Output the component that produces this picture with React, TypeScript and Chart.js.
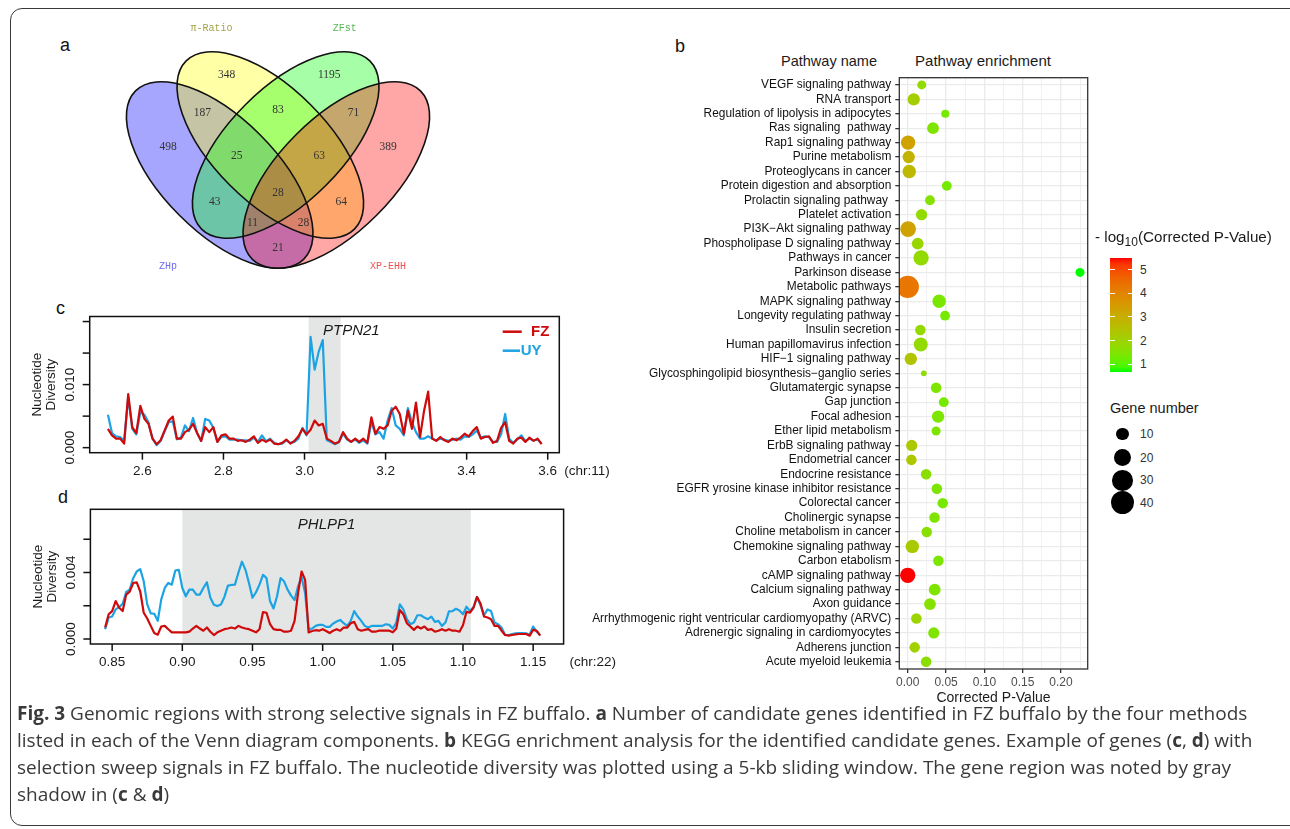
import React, { useEffect, useRef } from 'react';
import { Chart, registerables } from 'chart.js';

Chart.register(...registerables);

/* ---------------- Panel a : Venn diagram data ---------------- */
const vennSetNames = ['ZHp', 'π-Ratio', 'ZFst', 'XP-EHH'];
// regions: ZHp, π, ZFst, XP, ZHp∩π, π∩ZFst, ZFst∩XP, ZHp∩π∩ZFst, π∩ZFst∩XP, ZHp∩ZFst, all, π∩XP, ZHp∩ZFst∩XP, ZHp∩π∩XP, ZHp∩XP
const vennRegionCounts = [498, 348, 1195, 389, 187, 83, 71, 25, 63, 43, 28, 64, 11, 28, 21];

/* geometry of the Venn layout (diagram units, 1 unit = 1 px) */
const vennRegionAnchors = [
  [-110, 2], [-51.3, -70], [51.3, -70], [110, 2], [-75.6, -31.7], [0, -35], [75.6, -31.7],
  [-41.3, 10.7], [41.3, 10.7], [-63.3, 57.3], [0, 48.3], [63.3, 57.3], [-25.5, 78.3], [25.5, 78.3], [0, 103.3],
];
const vennEllipseCx = [-58.3, -7.7, 7.7, 58.3];
const vennEllipseCy = [30, 0, 0, 30];
const vennEllipseRot = [45, 45, -45, -45];
const vennEllipseA = 119;
const vennEllipseB = 57;
const vennFillColors = ['#0000FF', '#FFFF00', '#00FF00', '#FF0000'];
const vennLabelColors = ['#6B6BF0', '#A3A34A', '#55B855', '#F05050'];
const vennLabelAnchors = [[-110, 121], [-66.6, -116.7], [66.7, -116.7], [110, 121]];

/* ---------------- Panel b : KEGG enrichment data ---------------- */
const pathwayNames = [
  'VEGF signaling pathway', 'RNA transport', 'Regulation of lipolysis in adipocytes', 'Ras signaling  pathway',
  'Rap1 signaling pathway', 'Purine metabolism', 'Proteoglycans in cancer', 'Protein digestion and absorption',
  'Prolactin signaling pathway ', 'Platelet activation', 'PI3K\u2212Akt signaling pathway', 'Phospholipase D signaling pathway',
  'Pathways in cancer', 'Parkinson disease', 'Metabolic pathways', 'MAPK signaling pathway',
  'Longevity regulating pathway', 'Insulin secretion', 'Human papillomavirus infection', 'HIF\u22121 signaling pathway',
  'Glycosphingolipid biosynthesis\u2212ganglio series', 'Glutamatergic synapse', 'Gap junction', 'Focal adhesion',
  'Ether lipid metabolism', 'ErbB signaling pathway', 'Endometrial cancer', 'Endocrine resistance',
  'EGFR yrosine kinase inhibitor resistance', 'Colorectal cancer', 'Cholinergic synapse', 'Choline metabolism in cancer',
  'Chemokine signaling pathway', 'Carbon etabolism', 'cAMP signaling pathway', 'Calcium signaling pathway',
  'Axon guidance', 'Arrhythmogenic right ventricular cardiomyopathy (ARVC)', 'Adrenergic signaling in cardiomyocytes', 'Adherens junction',
  'Acute myeloid leukemia',
];
const correctedP = [
  0.0183, 0.0078, 0.049, 0.033,
  0.0005, 0.0013, 0.002, 0.051,
  0.029, 0.018, 0.0005, 0.013,
  0.0174, 0.2248, 0.00005, 0.041,
  0.0487, 0.0165, 0.017, 0.004,
  0.021, 0.037, 0.047, 0.0396,
  0.037, 0.0052, 0.0048, 0.024,
  0.038, 0.0457, 0.035, 0.0248,
  0.006, 0.04, 0.0000032, 0.0352,
  0.029, 0.0113, 0.034, 0.0091,
  0.024,
];
const geneNumber = [
  4, 9, 3, 8,
  13, 9, 11, 5,
  5, 7, 16, 8,
  15, 4, 36, 11,
  5, 6, 12, 9,
  1, 6, 5, 9,
  4, 7, 6, 6,
  6, 6, 6, 6,
  11, 6, 15, 8,
  8, 6, 7, 6,
  6,
];
const pValueTicks = [0, 0.05, 0.1, 0.15, 0.2];
const colorLegendTicks = [1, 2, 3, 4, 5];
const geneLegendBreaks = [10, 20, 30, 40];

/* ---------------- Panel c : PTPN21 (chr 11) ---------------- */
const cWindowStart = 2.515;
const cWindowStep = 0.01;
const cFZ = [
  0.00299, 0.00195, 0.00143, 0.00143, 0.00065, 0.00850, 0.00326, 0.00232, 0.00664, 0.00456,
  0.00378, 0.00143, 0.00055, 0.00117, 0.00273, 0.00430, 0.00492, 0.00143, 0.00143, 0.00247,
  0.00284, 0.00378, 0.00232, 0.00107, 0.00326, 0.00247, 0.00326, 0.00091, 0.00195, 0.00211,
  0.00143, 0.00143, 0.00107, 0.00117, 0.00091, 0.00128, 0.00180, 0.00076, 0.00128, 0.00091,
  0.00128, 0.00065, 0.00055, 0.00076, 0.00128, 0.00065, 0.00107, 0.00180, 0.00299, 0.00211,
  0.00284, 0.00430, 0.00352, 0.00378, 0.00143, 0.00107, 0.00065, 0.00091, 0.00247, 0.00143,
  0.00091, 0.00143, 0.00091, 0.00143, 0.00076, 0.00482, 0.00221, 0.00326, 0.00299, 0.00352,
  0.00586, 0.00650, 0.00534, 0.00221, 0.00586, 0.00299, 0.00716, 0.00169, 0.00586, 0.00888,
  0.00143, 0.00107, 0.00169, 0.00117, 0.00091, 0.00143, 0.00117, 0.00159, 0.00221, 0.00180,
  0.00263, 0.00326, 0.00143, 0.00169, 0.00180, 0.00076, 0.00107, 0.00315, 0.00404, 0.00107,
  0.00065, 0.00143, 0.00159, 0.00091, 0.00159, 0.00107, 0.00143, 0.00055,
];
const cUY = [
  0.00523, 0.00232, 0.00180, 0.00169, 0.00107, 0.00800, 0.00299, 0.00211, 0.00560, 0.00523,
  0.00404, 0.00143, 0.00039, 0.00107, 0.00263, 0.00404, 0.00419, 0.00133, 0.00159, 0.00352,
  0.00263, 0.00471, 0.00232, 0.00107, 0.00456, 0.00430, 0.00315, 0.00091, 0.00169, 0.00180,
  0.00128, 0.00128, 0.00128, 0.00117, 0.00117, 0.00107, 0.00159, 0.00091, 0.00195, 0.00102,
  0.00143, 0.00076, 0.00055, 0.00065, 0.00117, 0.00076, 0.00091, 0.00143, 0.00315, 0.00195,
  0.01758, 0.01237, 0.01523, 0.01706, 0.00117, 0.00091, 0.00055, 0.00091, 0.00221, 0.00128,
  0.00091, 0.00128, 0.00076, 0.00117, 0.00065, 0.00404, 0.00211, 0.00247, 0.00143, 0.00430,
  0.00628, 0.00352, 0.00299, 0.00195, 0.00628, 0.00404, 0.00247, 0.00143, 0.00143, 0.00180,
  0.00143, 0.00117, 0.00143, 0.00128, 0.00107, 0.00128, 0.00143, 0.00128, 0.00180, 0.00169,
  0.00211, 0.00273, 0.00159, 0.00180, 0.00169, 0.00091, 0.00091, 0.00211, 0.00534, 0.00143,
  0.00076, 0.00128, 0.00195, 0.00107, 0.00143, 0.00117, 0.00128, 0.00065,
];
const cXTicks = [2.6, 2.8, 3.0, 3.2, 3.4, 3.6];
const cYTicks = [0, 0.005, 0.01, 0.015, 0.02];
const cYLabelled = [0, 0.01];
const cGeneRegion = [3.01, 3.089];

/* ---------------- Panel d : PHLPP1 (chr 22) ---------------- */
const dWindowStart = 0.845;
const dWindowStep = 0.0025;
const dFZ = [
  0.00069, 0.00149, 0.00168, 0.00228, 0.00188, 0.00168, 0.00267, 0.00285, 0.00337, 0.00341,
  0.00287, 0.00158, 0.00123, 0.00079, 0.00036, 0.00026, 0.00075, 0.00079, 0.00059, 0.00040,
  0.00040, 0.00040, 0.00040, 0.00040, 0.00044, 0.00063, 0.00079, 0.00063, 0.00050, 0.00069,
  0.00044, 0.00024, 0.00040, 0.00050, 0.00059, 0.00063, 0.00069, 0.00063, 0.00079, 0.00069,
  0.00063, 0.00059, 0.00050, 0.00040, 0.00059, 0.00162, 0.00158, 0.00089, 0.00059, 0.00055,
  0.00055, 0.00044, 0.00044, 0.00050, 0.00109, 0.00277, 0.00406, 0.00356, 0.00040, 0.00048,
  0.00053, 0.00050, 0.00059, 0.00048, 0.00036, 0.00050, 0.00059, 0.00050, 0.00069, 0.00069,
  0.00095, 0.00103, 0.00059, 0.00050, 0.00055, 0.00059, 0.00044, 0.00044, 0.00050, 0.00050,
  0.00050, 0.00050, 0.00040, 0.00063, 0.00174, 0.00149, 0.00095, 0.00075, 0.00055, 0.00075,
  0.00063, 0.00075, 0.00055, 0.00059, 0.00044, 0.00050, 0.00059, 0.00050, 0.00059, 0.00050,
  0.00050, 0.00044, 0.00083, 0.00164, 0.00158, 0.00188, 0.00253, 0.00214, 0.00135, 0.00129,
  0.00119, 0.00079, 0.00079, 0.00050, 0.00024, 0.00020, 0.00024, 0.00028, 0.00030, 0.00030,
  0.00030, 0.00020, 0.00055, 0.00050, 0.00020,
];
const dUY = [
  0.00059, 0.00129, 0.00135, 0.00178, 0.00192, 0.00212, 0.00283, 0.00297, 0.00366, 0.00406,
  0.00420, 0.00347, 0.00208, 0.00154, 0.00152, 0.00109, 0.00238, 0.00307, 0.00337, 0.00327,
  0.00412, 0.00416, 0.00307, 0.00257, 0.00297, 0.00297, 0.00267, 0.00267, 0.00307, 0.00341,
  0.00248, 0.00206, 0.00198, 0.00208, 0.00253, 0.00321, 0.00325, 0.00327, 0.00400, 0.00465,
  0.00416, 0.00337, 0.00248, 0.00281, 0.00327, 0.00386, 0.00366, 0.00228, 0.00184, 0.00257,
  0.00366, 0.00347, 0.00297, 0.00261, 0.00234, 0.00317, 0.00372, 0.00277, 0.00059, 0.00063,
  0.00079, 0.00085, 0.00085, 0.00073, 0.00073, 0.00093, 0.00105, 0.00115, 0.00095, 0.00079,
  0.00109, 0.00168, 0.00135, 0.00109, 0.00079, 0.00069, 0.00079, 0.00079, 0.00079, 0.00079,
  0.00089, 0.00085, 0.00063, 0.00099, 0.00208, 0.00178, 0.00119, 0.00089, 0.00099, 0.00143,
  0.00143, 0.00129, 0.00119, 0.00135, 0.00103, 0.00109, 0.00079, 0.00099, 0.00166, 0.00168,
  0.00182, 0.00172, 0.00149, 0.00194, 0.00168, 0.00192, 0.00253, 0.00202, 0.00143, 0.00178,
  0.00168, 0.00099, 0.00089, 0.00069, 0.00024, 0.00024, 0.00030, 0.00034, 0.00036, 0.00036,
  0.00034, 0.00026, 0.00075, 0.00044, 0.00024,
];
const dXTicks = [0.85, 0.9, 0.95, 1.0, 1.05, 1.1, 1.15];
const dYTicks = [0, 0.002, 0.004, 0.006];
const dYLabelled = [0, 0.004];
const dGeneRegion = [0.9, 1.1056];

/* ---------------- helpers ---------------- */
const FONT = "'Liberation Sans', Arial, sans-serif";
const FZ_COLOR = '#CE0A0A';
const UY_COLOR = '#1CA3E3';

function srgbToLab(rgb: number[]) {
  const lin = rgb.map((c) => {
    const v = c / 255;
    return v <= 0.04045 ? v / 12.92 : Math.pow((v + 0.055) / 1.055, 2.4);
  });
  const X = (0.4124564 * lin[0] + 0.3575761 * lin[1] + 0.1804375 * lin[2]) / 0.95047;
  const Y = 0.2126729 * lin[0] + 0.7151522 * lin[1] + 0.072175 * lin[2];
  const Z = (0.0193339 * lin[0] + 0.119192 * lin[1] + 0.9503041 * lin[2]) / 1.08883;
  const f = (t: number) => (t > 216 / 24389 ? Math.cbrt(t) : ((24389 / 27) * t + 16) / 116);
  const fx = f(X), fy = f(Y), fz = f(Z);
  return [116 * fy - 16, 500 * (fx - fy), 200 * (fy - fz)];
}
function labToCss(lab: number[]) {
  const fy = (lab[0] + 16) / 116;
  const fx = fy + lab[1] / 500;
  const fz = fy - lab[2] / 200;
  const inv = (t: number) => (t * t * t > 216 / 24389 ? t * t * t : (116 * t - 16) / (24389 / 27));
  const X = inv(fx) * 0.95047, Y = inv(fy), Z = inv(fz) * 1.08883;
  const lin = [
    3.2404542 * X - 1.5371385 * Y - 0.4985314 * Z,
    -0.969266 * X + 1.8760108 * Y + 0.041556 * Z,
    0.0556434 * X - 0.2040259 * Y + 1.0572252 * Z,
  ];
  const out = lin.map((c) => {
    const v = c <= 0.0031308 ? 12.92 * c : 1.055 * Math.pow(c, 1 / 2.4) - 0.055;
    return Math.round(Math.min(1, Math.max(0, v)) * 255);
  });
  return `rgb(${out[0]},${out[1]},${out[2]})`;
}
const LOW_LAB = srgbToLab([0, 255, 0]);
const HIGH_LAB = srgbToLab([255, 0, 0]);
const enrichValues = correctedP.map((p) => -Math.log10(p));
const enrichMin = Math.min(...enrichValues);
const enrichMax = Math.max(...enrichValues);
function enrichColor(v: number) {
  const t = Math.min(1, Math.max(0, (v - enrichMin) / (enrichMax - enrichMin)));
  return labToCss(LOW_LAB.map((l, i) => l + (HIGH_LAB[i] - l) * t));
}
function geneRadius(g: number) {
  return 1.2 + 1.66 * Math.sqrt(g);
}
function isMajor(v: any) {
  if (typeof v !== 'number') return false;
  return pValueTicks.some((t) => Math.abs(t - v) < 1e-6);
}

/* ---------------- plugins ---------------- */
const vennPlugin = {
  id: 'vennPlugin',
  afterDatasetsDraw(chart: any) {
    const { ctx, scales } = chart;
    const xs = scales.x, ys = scales.y;
    const kx = Math.abs(xs.getPixelForValue(1) - xs.getPixelForValue(0));
    const ky = Math.abs(ys.getPixelForValue(1) - ys.getPixelForValue(0));
    const path = (i: number) => {
      ctx.beginPath();
      ctx.ellipse(
        xs.getPixelForValue(vennEllipseCx[i]), ys.getPixelForValue(vennEllipseCy[i]),
        vennEllipseA * kx, vennEllipseB * ky, (vennEllipseRot[i] * Math.PI) / 180, 0, Math.PI * 2,
      );
    };
    ctx.save();
    for (let i = 0; i < 4; i++) {
      path(i);
      ctx.globalAlpha = 0.35;
      ctx.fillStyle = vennFillColors[i];
      ctx.fill();
    }
    ctx.globalAlpha = 1;
    ctx.lineWidth = 1.6;
    ctx.strokeStyle = '#111';
    for (let i = 0; i < 4; i++) {
      path(i);
      ctx.stroke();
    }
    const meta = chart.getDatasetMeta(0);
    ctx.fillStyle = '#333';
    ctx.font = "11.5px 'Liberation Serif', serif";
    ctx.textAlign = 'center';
    ctx.textBaseline = 'middle';
    meta.data.forEach((pt: any, i: number) => ctx.fillText(String(vennRegionCounts[i]), pt.x, pt.y));
    ctx.font = "10px 'Liberation Mono', monospace";
    vennSetNames.forEach((n, i) => {
      ctx.fillStyle = vennLabelColors[i];
      ctx.fillText(n, xs.getPixelForValue(vennLabelAnchors[i][0]), ys.getPixelForValue(vennLabelAnchors[i][1]));
    });
    ctx.restore();
  },
};

const panelBorderPlugin = {
  id: 'panelBorder',
  afterDatasetsDraw(chart: any) {
    const { ctx, chartArea: a } = chart;
    ctx.save();
    ctx.strokeStyle = '#333';
    ctx.lineWidth = 1.3;
    ctx.strokeRect(a.left, a.top, a.right - a.left, a.bottom - a.top);
    ctx.restore();
  },
};

function diversityPlugin(o: any) {
  return {
    id: 'diversity' + o.id,
    beforeDatasetsDraw(chart: any) {
      const { ctx, chartArea: a, scales } = chart;
      const x0 = scales.x.getPixelForValue(o.region[0]);
      const x1 = scales.x.getPixelForValue(o.region[1]);
      ctx.save();
      ctx.fillStyle = '#E4E6E5';
      ctx.fillRect(x0, a.top, x1 - x0, a.bottom - a.top);
      ctx.restore();
    },
    afterDatasetsDraw(chart: any) {
      const { ctx, chartArea: a, scales } = chart;
      const xs = scales.x, ys = scales.y;
      ctx.save();
      ctx.strokeStyle = '#111';
      ctx.lineWidth = 1.5;
      ctx.strokeRect(a.left, a.top, a.right - a.left, a.bottom - a.top);
      ctx.fillStyle = '#1a1a1a';
      ctx.font = `13.5px ${FONT}`;
      ctx.textAlign = 'center';
      ctx.textBaseline = 'middle';
      o.yTicks.forEach((v: number) => {
        const py = ys.getPixelForValue(v);
        ctx.beginPath();
        ctx.moveTo(a.left, py);
        ctx.lineTo(a.left - 7, py);
        ctx.stroke();
      });
      o.yLabelled.forEach((v: number) => {
        const py = ys.getPixelForValue(v);
        ctx.save();
        ctx.translate(a.left - 19, py);
        ctx.rotate(-Math.PI / 2);
        ctx.fillText(v.toFixed(3), 0, 0);
        ctx.restore();
      });
      o.xTicks.forEach((v: number) => {
        const px = xs.getPixelForValue(v);
        ctx.beginPath();
        ctx.moveTo(px, a.bottom);
        ctx.lineTo(px, a.bottom + 7);
        ctx.stroke();
        ctx.fillText(v.toFixed(o.xDigits), px, a.bottom + 18.5);
      });
      ctx.textAlign = 'left';
      ctx.fillText(o.chr, a.right + o.chrGap, a.bottom + 18.5);
      const cy = (a.top + a.bottom) / 2;
      ctx.textAlign = 'center';
      [['Nucleotide', 52], ['Diversity', 38]].forEach(([t, d]: any) => {
        ctx.save();
        ctx.translate(a.left - d, cy);
        ctx.rotate(-Math.PI / 2);
        ctx.fillText(t, 0, 0);
        ctx.restore();
      });
      ctx.font = `italic 15px ${FONT}`;
      ctx.textAlign = o.geneAlign;
      ctx.fillText(o.gene, xs.getPixelForValue(o.geneX), a.top + o.geneDy);
      if (o.legend) {
        ctx.font = `bold 15px ${FONT}`;
        ctx.textAlign = 'left';
        ctx.lineWidth = 2.5;
        [['FZ', FZ_COLOR, 15.2, 28.3, 56.6, 37.6], ['UY', UY_COLOR, 34.2, 38.6, 56.6, 39.3]].forEach(([t, c, dy, tx, l0, l1]: any) => {
          ctx.strokeStyle = c;
          ctx.fillStyle = c;
          ctx.beginPath();
          ctx.moveTo(a.right - l0, a.top + dy);
          ctx.lineTo(a.right - l1, a.top + dy);
          ctx.stroke();
          ctx.fillText(t, a.right - tx, a.top + dy);
        });
      }
      ctx.restore();
    },
  };
}

/* ---------------- chart configs ---------------- */
function vennConfig() {
  return {
    type: 'scatter',
    data: {
      datasets: [{ data: vennRegionAnchors.map(([x, y]) => ({ x, y })), pointRadius: 0 }],
    },
    options: {
      responsive: false, animation: false, events: [],
      layout: { padding: 0 },
      scales: {
        x: { type: 'linear', display: false, min: -230, max: 230 },
        y: { type: 'linear', display: false, min: -135, max: 145, reverse: true },
      },
      plugins: { legend: { display: false }, tooltip: { enabled: false } },
    },
    plugins: [vennPlugin],
  };
}

const BUBBLE_CANVAS_LEFT = 560;
function bubbleConfig() {
  return {
    type: 'bubble',
    data: {
      datasets: [{
        data: pathwayNames.map((n, i) => ({ x: correctedP[i], y: n, r: geneRadius(geneNumber[i]) })),
        backgroundColor: enrichValues.map((v) => enrichColor(v)),
        borderWidth: 0,
      }],
    },
    options: {
      responsive: false, animation: false, events: [],
      layout: { padding: { top: 47.7, right: 12.3, left: 0, bottom: 0 } },
      scales: {
        x: {
          type: 'linear', position: 'bottom', min: -0.011, max: 0.2348,
          afterFit: (s: any) => { s.height = 42; },
          border: { display: false },
          grid: {
            color: '#EBEBEB',
            lineWidth: (c: any) => (isMajor(c.tick && c.tick.value) ? 1.3 : 0.7),
            tickLength: 4,
            tickColor: (c: any) => (isMajor(c.tick && c.tick.value) ? '#333' : 'rgba(0,0,0,0)'),
          },
          ticks: {
            stepSize: 0.025, includeBounds: false, autoSkip: false, maxRotation: 0, padding: 2,
            color: '#4D4D4D', font: { family: FONT, size: 12 },
            callback: (v: any) => (isMajor(v) ? Number(v).toFixed(2) : ''),
          },
          title: {
            display: true, text: 'Corrected P-Value', color: '#1A1A1A',
            font: { family: FONT, size: 14 }, padding: { top: 0, bottom: 4 },
          },
        },
        y: {
          type: 'category', labels: pathwayNames, offset: true,
          afterFit: (s: any) => { s.width = 899.3 - BUBBLE_CANVAS_LEFT; },
          border: { display: false },
          grid: { color: '#EBEBEB', lineWidth: 1.3, tickLength: 4, tickColor: '#333', offset: false },
          ticks: { autoSkip: false, color: '#111', font: { family: FONT, size: 11.9 }, padding: 4 },
        },
      },
      plugins: { legend: { display: false }, tooltip: { enabled: false } },
    },
    plugins: [panelBorderPlugin],
  };
}

function diversityConfig(o: any) {
  const pts = (arr: number[]) => arr.map((v, i) => ({ x: +(o.start + i * o.step).toFixed(5), y: v }));
  return {
    type: 'line',
    data: {
      datasets: [
        { label: 'FZ', data: pts(o.fz), borderColor: FZ_COLOR, borderWidth: 2.2, pointRadius: 0, tension: 0, borderJoinStyle: 'round' },
        { label: 'UY', data: pts(o.uy), borderColor: UY_COLOR, borderWidth: 2.2, pointRadius: 0, tension: 0, borderJoinStyle: 'round' },
      ],
    },
    options: {
      responsive: false, animation: false, events: [],
      layout: { padding: o.padding },
      scales: {
        x: { type: 'linear', display: false, min: o.xRange[0], max: o.xRange[1] },
        y: { type: 'linear', display: false, min: o.yRange[0], max: o.yRange[1] },
      },
      plugins: { legend: { display: false }, tooltip: { enabled: false } },
    },
    plugins: [diversityPlugin(o)],
  };
}

const cOptions = {
  id: 'c', start: cWindowStart, step: cWindowStep, fz: cFZ, uy: cUY,
  xRange: [2.47, 3.6286], yRange: [-0.0008, 0.0208],
  padding: { left: 69.7, top: 20.5, right: 80.7, bottom: 43.3 },
  xTicks: cXTicks, xDigits: 1, yTicks: cYTicks, yLabelled: cYLabelled, region: cGeneRegion,
  chr: '(chr:11)', chrGap: 5, gene: 'PTPN21', geneX: 3.0455, geneAlign: 'left', geneDy: 14.5, legend: true,
};
const dOptions = {
  id: 'd', start: dWindowStart, step: dWindowStep, fz: dFZ, uy: dUY,
  xRange: [0.8345, 1.1717], yRange: [-0.0003, 0.0078],
  padding: { left: 70.4, top: 23.3, right: 76.4, bottom: 42 },
  xTicks: dXTicks, xDigits: 2, yTicks: dYTicks, yLabelled: dYLabelled, region: dGeneRegion,
  chr: '(chr:22)', chrGap: 6, gene: 'PHLPP1', geneX: (dGeneRegion[0] + dGeneRegion[1]) / 2, geneAlign: 'center', geneDy: 15.7, legend: false,
};

/* ---------------- components ---------------- */
function ChartCanvas({ left, top, width, height, makeConfig }: any) {
  const ref = useRef<HTMLCanvasElement | null>(null);
  useEffect(() => {
    const chart = new Chart(ref.current as HTMLCanvasElement, makeConfig());
    return () => chart.destroy();
  }, []);
  return <canvas ref={ref} width={width} height={height} style={{ position: 'absolute', left, top, width, height }} />;
}

const abs = (left: number, top: number, extra: any = {}) => ({ position: 'absolute' as const, left, top, ...extra });

function EnrichLegend() {
  const barTop = 258.3, barH = 114, barLeft = 1110, barW = 22.3;
  const stops: string[] = [];
  for (let k = 0; k <= 20; k++) {
    const v = enrichMin + ((enrichMax - enrichMin) * k) / 20;
    stops.push(`${enrichColor(v)} ${(k * 5).toFixed(0)}%`);
  }
  const yOf = (v: number) => barTop + barH - ((v - enrichMin) / (enrichMax - enrichMin)) * barH;
  const circleY = [434, 457.7, 480.3, 502.7];
  return (
    <>
      <div style={abs(1095, 228, { font: `15.2px ${FONT}`, color: '#1a1a1a', whiteSpace: 'nowrap' })}>
        - log<sub style={{ fontSize: 12 }}>10</sub>(Corrected P-Value)
      </div>
      <div style={abs(barLeft, barTop, { width: barW, height: barH, background: `linear-gradient(to top, ${stops.join(', ')})` })} />
      {colorLegendTicks.map((v) => (
        <React.Fragment key={v}>
          <div style={abs(barLeft, yOf(v) - 0.5, { width: 4.5, height: 1, background: '#fff' })} />
          <div style={abs(barLeft + barW - 4.5, yOf(v) - 0.5, { width: 4.5, height: 1, background: '#fff' })} />
          <div style={abs(1140, yOf(v) - 7, { font: `12px ${FONT}`, color: '#333', lineHeight: '14px' })}>{v}</div>
        </React.Fragment>
      ))}
      <div style={abs(1110, 400, { font: `14.5px ${FONT}`, color: '#1a1a1a', lineHeight: '17px', whiteSpace: 'nowrap' })}>Gene number</div>
      {geneLegendBreaks.map((g, i) => {
        const r = geneRadius(g);
        return (
          <React.Fragment key={g}>
            <div style={abs(1122.7 - r, circleY[i] - r, { width: 2 * r, height: 2 * r, borderRadius: '50%', background: '#000' })} />
            <div style={abs(1140, circleY[i] - 7, { font: `12px ${FONT}`, color: '#333', lineHeight: '14px' })}>{g}</div>
          </React.Fragment>
        );
      })}
    </>
  );
}

export default function App() {
  const letter = { font: `18px ${FONT}`, color: '#111', lineHeight: '20px' };
  return (
    <div style={{ position: 'absolute', left: 0, top: 0, width: 1290, height: 829, overflow: 'hidden', background: '#fff' }}>
      <div style={abs(10, 8, { width: 1300, height: 818, border: '1.5px solid #3a3a3a', borderRadius: 12, boxSizing: 'border-box' })} />

      <div style={abs(60, 35, letter)}>a</div>
      <div style={abs(675, 36, letter)}>b</div>
      <div style={abs(56, 298, letter)}>c</div>
      <div style={abs(58, 487, letter)}>d</div>

      <ChartCanvas left={48.3} top={10} width={460} height={280} makeConfig={vennConfig} />

      <div style={abs(770, 53, { width: 118, textAlign: 'center', font: `14.5px ${FONT}`, color: '#1a1a1a', whiteSpace: 'nowrap' })}>Pathway name</div>
      <div style={abs(913, 52, { width: 140, textAlign: 'center', font: `15px ${FONT}`, color: '#1a1a1a', whiteSpace: 'nowrap' })}>Pathway enrichment</div>
      <ChartCanvas left={BUBBLE_CANVAS_LEFT} top={30} width={1100 - BUBBLE_CANVAS_LEFT} height={681} makeConfig={bubbleConfig} />
      <EnrichLegend />

      <ChartCanvas left={20} top={296} width={620} height={200} makeConfig={() => diversityConfig(cOptions)} />
      <ChartCanvas left={20} top={486} width={620} height={200} makeConfig={() => diversityConfig(dOptions)} />

      <div style={abs(17, 700, { fontFamily: "'Open Sans', sans-serif", fontSize: 19, lineHeight: '27px', color: '#3a3a3a', whiteSpace: 'nowrap' })}>
        <b>Fig. 3</b> Genomic regions with strong selective signals in FZ buffalo. <b>a</b> Number of candidate genes identified in FZ buffalo by the four methods<br />
        listed in each of the Venn diagram components. <b>b</b> KEGG enrichment analysis for the identified candidate genes. Example of genes (<b>c</b>, <b>d</b>) with<br />
        selection sweep signals in FZ buffalo. The nucleotide diversity was plotted using a 5-kb sliding window. The gene region was noted by gray<br />
        shadow in (<b>c</b> &amp; <b>d</b>)
      </div>
    </div>
  );
}
